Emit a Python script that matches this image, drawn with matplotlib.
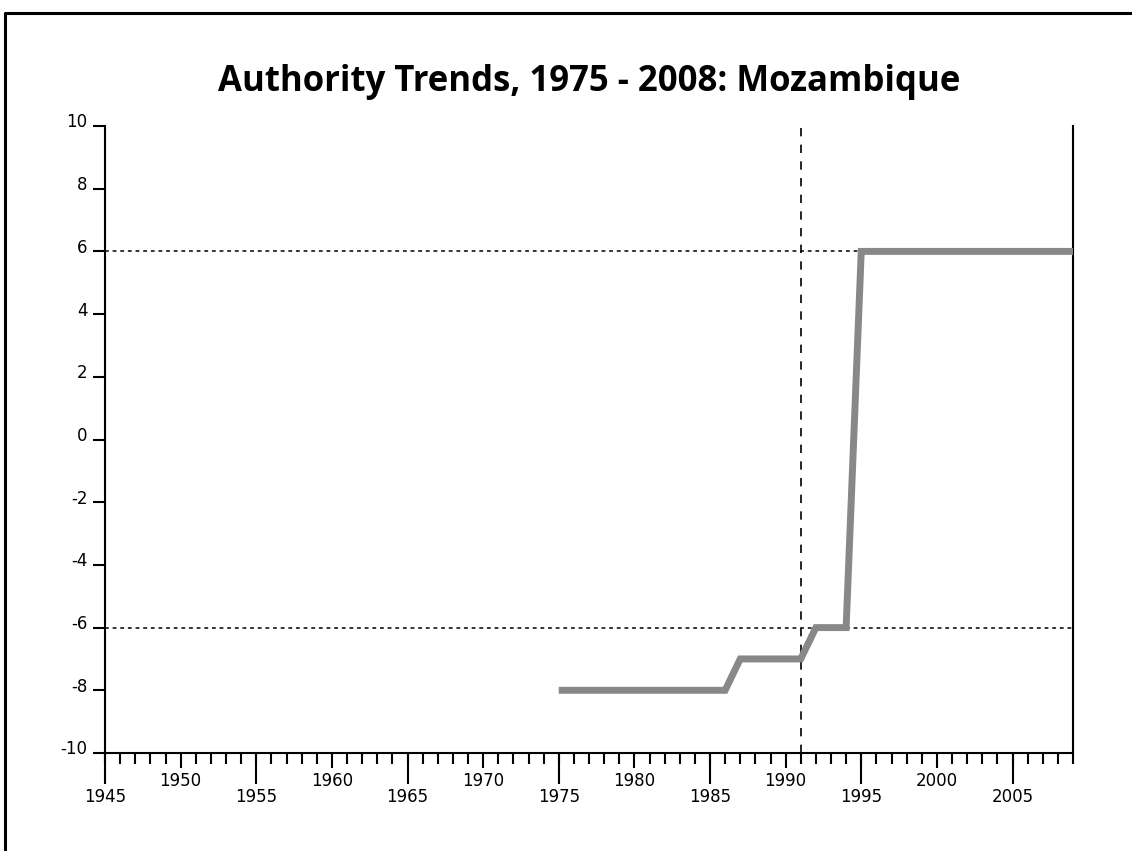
import matplotlib
matplotlib.use("Agg")
import matplotlib.pyplot as plt
import matplotlib.transforms as mtransforms
from matplotlib.lines import Line2D
import numpy as np

plt.rcParams["axes.unicode_minus"] = False

# Authority score per year (Mozambique)
years = list(range(1975, 2010))
scores = [-8] * 12 + [-7] * 5 + [-6] * 3 + [6] * 15

ref_year = 1991
ref_levels = [6, -6]
title = "Authority Trends, 1975 - 2008: Mozambique"

fig = plt.figure(figsize=(11.32, 8.51), dpi=100)
W, H = 1132, 851
ax = fig.add_axes([105 / W, 1 - 753 / H, (1073 - 105) / W, (753 - 126) / H])

ax.plot(years, scores, color="#888888", linewidth=5, solid_capstyle="butt",
        solid_joinstyle="miter", zorder=3)

for lv in ref_levels:
    ax.axhline(lv, color="black", linestyle=(0, (2.5, 2.5)), linewidth=1.1, zorder=2)
ax.axvline(ref_year, color="black", linestyle=(0, (5, 5)), linewidth=1.2, zorder=2)

ax.set_xlim(1945, 2009)
ax.set_ylim(-10, 10)

ax.spines["top"].set_visible(False)
for s in ["left", "right", "bottom"]:
    ax.spines[s].set_linewidth(1.5)

ax.set_yticks(np.arange(-10, 11, 2))
ax.tick_params(axis="y", direction="out", length=8.5, width=1.5, pad=4,
               labelsize=12, left=True, right=False)
# labels sit a little above their ticks
shift = mtransforms.ScaledTranslation(0, 4 / 72, fig.dpi_scale_trans)
for lab in ax.get_yticklabels():
    lab.set_transform(lab.get_transform() + shift)

# decade ticks (short) + yearly minor ticks
ax.set_xticks(np.arange(1950, 2009, 10))
ax.set_xticks(np.arange(1945, 2010, 1), minor=True)
ax.tick_params(axis="x", which="major", direction="out", length=11, width=1.5,
               pad=3, labelsize=12)
ax.tick_params(axis="x", which="minor", direction="out", length=8, width=1.5)

# half-decade ticks (long), on a second axis
sec = ax.secondary_xaxis("bottom")
sec.set_xticks(np.arange(1945, 2009, 10))
sec.tick_params(axis="x", direction="out", length=22, width=1.5, pad=3, labelsize=12)
sec.spines["bottom"].set_visible(False)

fig.text(589 / W, 1 - 82 / H, title, ha="center", va="center",
         fontsize=25, fontweight="bold", family=["Open Sans", "DejaVu Sans"])

# outer frame (left and top edges)
fig.add_artist(Line2D([5 / W, 5 / W, 1.0], [0.0, 1 - 13 / H, 1 - 13 / H],
                      transform=fig.transFigure, color="black", linewidth=2.2))

fig.savefig("out.png", dpi=100)
